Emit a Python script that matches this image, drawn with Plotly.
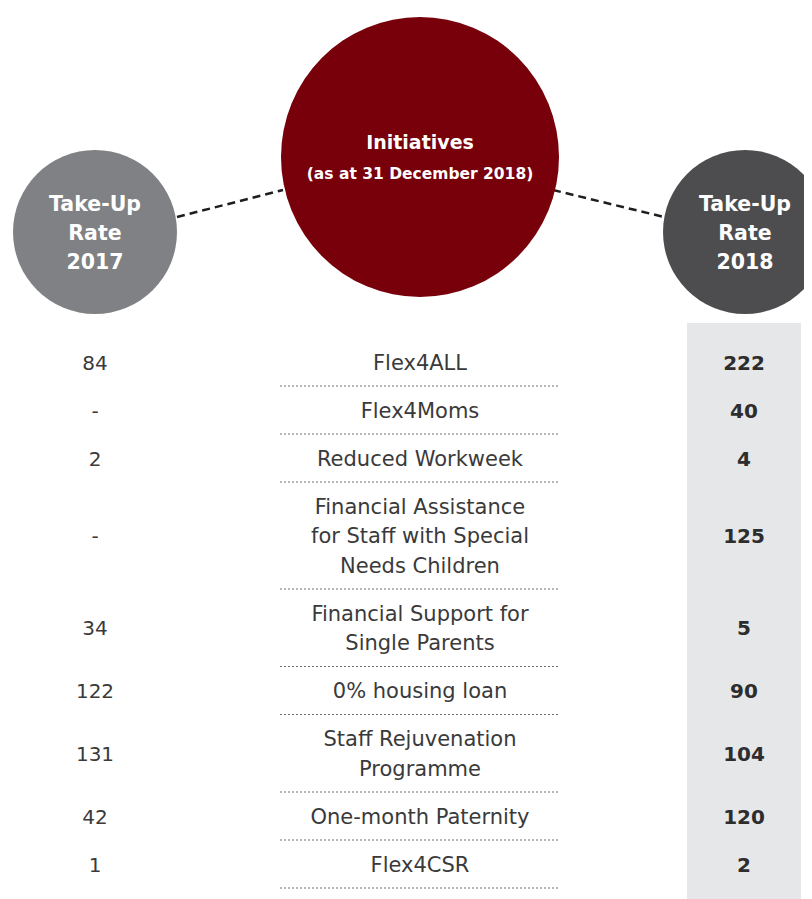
import plotly.graph_objects as go
import numpy as np

# ---- data ----
initiatives = [
    "Flex4ALL",
    "Flex4Moms",
    "Reduced Workweek",
    "Financial Assistance<br>for Staff with Special<br>Needs Children",
    "Financial Support for<br>Single Parents",
    "0% housing loan",
    "Staff Rejuvenation<br>Programme",
    "One-month Paternity",
    "Flex4CSR",
]
rate_2017 = ["84", "-", "2", "-", "34", "122", "131", "42", "1"]
rate_2018 = [222, 40, 4, 125, 5, 90, 104, 120, 2]

header_left = "Take-Up<br>Rate<br>2017"
header_mid_title = "Initiatives"
header_mid_sub = "(as at 31 December 2018)"
header_right = "Take-Up<br>Rate<br>2018"

# ---- layout helpers (pixel-like coordinate system) ----
W, H = 812, 899
OFF = 8  # page body margin compensation
LINE_H = 29.5
BASE_ROW_H = 48
TOP = 338
DY = 2.5  # text vertical nudge

n_lines = [len(s.split("<br>")) for s in initiatives]
row_h = [BASE_ROW_H + LINE_H * (n - 1) for n in n_lines]
tops = TOP + np.concatenate([[0], np.cumsum(row_h)[:-1]])
centers = tops + np.array(row_h) / 2
seps = tops + np.array(row_h)

X_LEFT, X_MID, X_RIGHT = 95, 420, 744
FAM = "DejaVu Sans, Liberation Sans, Arial, sans-serif"

fig = go.Figure()

body_font = dict(family=FAM, size=21, color="#3a3a3b")
num_font = dict(family=FAM, size=20, color="#3a3a3b")
bold_font = dict(family=FAM, size=20, color="#2d2d2e")

# 2017 values
fig.add_trace(go.Scatter(
    x=[X_LEFT] * len(rate_2017), y=centers + DY, text=rate_2017, mode="text",
    textposition="middle center", textfont=num_font, hoverinfo="skip", showlegend=False))

# initiatives (each line placed separately for accurate line spacing)
lx, ly, lt = [], [], []
for c, s in zip(centers, initiatives):
    parts = s.split("<br>")
    n = len(parts)
    for j, p in enumerate(parts):
        lx.append(X_MID)
        ly.append(c + DY + (j - (n - 1) / 2) * LINE_H)
        lt.append(p)
fig.add_trace(go.Scatter(
    x=lx, y=ly, text=lt, mode="text", textposition="middle center",
    textfont=body_font, hoverinfo="skip", showlegend=False))

# 2018 values
fig.add_trace(go.Scatter(
    x=[X_RIGHT] * len(rate_2018), y=centers + DY, text=[f"<b>{v}</b>" for v in rate_2018],
    mode="text", textposition="middle center", textfont=bold_font,
    hoverinfo="skip", showlegend=False))

# header texts
def header_lines(txt, cx, cy, sp):
    parts = txt.split("<br>")
    n = len(parts)
    return ([cx] * n, [cy + DY + (j - (n - 1) / 2) * sp for j in range(n)], [f"<b>{p}</b>" for p in parts])

hdr_font = dict(family=FAM, size=20.5, color="white")
hx, hy, ht = header_lines(header_left, 95, 232, 29)
fig.add_trace(go.Scatter(x=hx, y=hy, text=ht, mode="text", textposition="middle center",
                         textfont=hdr_font, hoverinfo="skip", showlegend=False))
hx, hy, ht = header_lines(header_right, 745, 232, 29)
fig.add_trace(go.Scatter(x=hx, y=hy, text=ht, mode="text", textposition="middle center",
                         textfont=hdr_font, hoverinfo="skip", showlegend=False))
fig.add_trace(go.Scatter(x=[420], y=[142 + DY], text=[f"<b>{header_mid_title}</b>"], mode="text",
                         textposition="middle center",
                         textfont=dict(family=FAM, size=19, color="white"),
                         hoverinfo="skip", showlegend=False))
fig.add_trace(go.Scatter(x=[420], y=[173 + DY], text=[f"<b>{header_mid_sub}</b>"], mode="text",
                         textposition="middle center",
                         textfont=dict(family=FAM, size=15.5, color="white"),
                         hoverinfo="skip", showlegend=False))

shapes = []
# grey band behind 2018 column
shapes.append(dict(type="rect", xref="x", yref="y", x0=687, x1=801, y0=323, y1=H + 20,
                   fillcolor="#e6e7e8", line=dict(width=0), layer="below"))
# dashed connectors
shapes.append(dict(type="line", xref="x", yref="y", x0=177, y0=217, x1=283, y1=190,
                   line=dict(color="#1e1e1e", width=2.5, dash="8px,5px"), layer="below"))
shapes.append(dict(type="line", xref="x", yref="y", x0=553, y0=190, x1=664, y1=217,
                   line=dict(color="#1e1e1e", width=2.5, dash="8px,5px"), layer="below"))
# circles
shapes.append(dict(type="circle", xref="x", yref="y", x0=13, x1=177, y0=150, y1=314,
                   fillcolor="#808184", line=dict(width=0), layer="below"))
shapes.append(dict(type="circle", xref="x", yref="y", x0=281, x1=559, y0=17, y1=297,
                   fillcolor="#77000b", line=dict(width=0), layer="below"))
shapes.append(dict(type="circle", xref="x", yref="y", x0=663, x1=827, y0=150, y1=314,
                   fillcolor="#4d4d4f", line=dict(width=0), layer="below"))
# dotted separators
for s in seps:
    shapes.append(dict(type="line", xref="x", yref="y", x0=280, x1=559, y0=s, y1=s,
                       line=dict(color="#6d6e71", width=1, dash="2px,2px"), layer="below"))

fig.update_layout(
    width=W, height=H, margin=dict(l=0, r=0, t=0, b=0),
    plot_bgcolor="white", paper_bgcolor="white",
    xaxis=dict(range=[OFF, W + OFF], visible=False, fixedrange=True),
    yaxis=dict(range=[H + OFF, OFF], visible=False, fixedrange=True),
    shapes=shapes, showlegend=False,
)

fig.write_html("out.html")
